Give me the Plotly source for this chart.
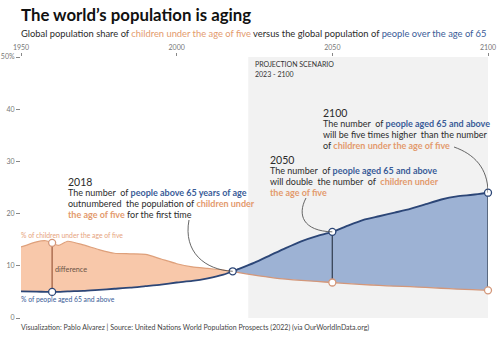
import plotly.graph_objects as go

# ---------------- data ----------------
years = [1950, 1955, 1958, 1960, 1962, 1965, 1970, 1975, 1980, 1985, 1990, 1995,
         2000, 2005, 2010, 2015, 2018, 2020, 2025, 2030, 2035, 2040, 2045, 2050,
         2055, 2060, 2065, 2070, 2075, 2080, 2085, 2090, 2095, 2100]
children_under5 = [13.6, 14.6, 14.8, 14.4, 13.9, 14.7, 14.0, 13.1, 12.4, 12.3, 12.2, 11.3,
                   10.4, 9.8, 9.5, 9.2, 8.95, 8.7, 8.2, 7.8, 7.45, 7.2, 7.0, 6.8,
                   6.6, 6.4, 6.25, 6.1, 6.0, 5.85, 5.7, 5.55, 5.45, 5.3]
aged65_plus = [5.1, 5.05, 5.0, 5.0, 5.0, 5.1, 5.2, 5.4, 5.6, 5.8, 6.1, 6.4,
               6.8, 7.1, 7.6, 8.3, 8.95, 9.4, 10.6, 12.0, 13.4, 14.7, 15.7, 16.5,
               17.7, 18.8, 19.5, 20.2, 20.9, 21.8, 22.7, 23.3, 23.6, 24.0]
highlight_years = [1960, 2018, 2050, 2100]
projection_start, projection_end = 2023, 2100
x_ticks = [1950, 2000, 2050, 2100]
y_ticks = [0, 10, 20, 30, 40, 50]
y_ticktext = ["0", "10", "20", "30", "40", "50%"]

# ---------------- styling ----------------
FONT = "Lato"
ORANGE_FILL = "#f8c8aa"
ORANGE_LINE = "#dea07b"
ORANGE_LINE2 = "#d3977a"
ORANGE_TXT = "#e39a6d"
BLUE_FILL = "#9db2d4"
BLUE_LINE = "#2c4677"
BLUE_TXT = "#3a5c98"
DARK = "#2b2b2b"

W, H = 500, 343
L, R, T, B = 21, 12, 57, 25
PW, PH = W - L - R, H - T - B


def px(xp, yp):
    """pixel -> paper coords"""
    return (xp - L) / PW, (H - B - yp) / PH


def pdata(xp, yp):
    """pixel -> data coords"""
    return (1950 + (xp - L) / PW * 150, (H - B - yp) / PH * 50)


idx18 = years.index(2018)
hy = years[:idx18 + 1]
py_ = years[idx18:]

fig = go.Figure()

# historical: orange area above blue
fig.add_trace(go.Scatter(x=hy, y=aged65_plus[:idx18 + 1], mode="lines",
                         line=dict(color=BLUE_LINE, width=1.8, shape="spline", smoothing=0.6),
                         hoverinfo="skip"))
fig.add_trace(go.Scatter(x=hy, y=children_under5[:idx18 + 1], mode="lines", fill="tonexty",
                         fillcolor=ORANGE_FILL,
                         line=dict(color=ORANGE_LINE, width=1.2, shape="spline", smoothing=0.6),
                         hoverinfo="skip"))
# projection: blue area above orange
fig.add_trace(go.Scatter(x=py_, y=children_under5[idx18:], mode="lines",
                         line=dict(color=ORANGE_LINE2, width=1.3, shape="spline", smoothing=0.6),
                         hoverinfo="skip"))
fig.add_trace(go.Scatter(x=py_, y=aged65_plus[idx18:], mode="lines", fill="tonexty",
                         fillcolor=BLUE_FILL,
                         line=dict(color=BLUE_LINE, width=1.9, shape="spline", smoothing=0.6),
                         hoverinfo="skip"))

# vertical difference lines
for yr, col in [(1960, "#a8694c"), (2050, "#3d4a5e"), (2100, "#3d4a5e")]:
    i = years.index(yr)
    fig.add_trace(go.Scatter(x=[yr, yr], y=[children_under5[i], aged65_plus[i]], mode="lines",
                             line=dict(color=col, width=1.4), hoverinfo="skip"))

# markers
for yr in highlight_years:
    i = years.index(yr)
    if yr != 2018:
        fig.add_trace(go.Scatter(x=[yr], y=[children_under5[i]], mode="markers",
                                 marker=dict(size=7, color="white",
                                             line=dict(color=ORANGE_LINE2, width=1.3)),
                                 hoverinfo="skip", cliponaxis=False))
    fig.add_trace(go.Scatter(x=[yr], y=[aged65_plus[i]], mode="markers",
                             marker=dict(size=7, color="white",
                                         line=dict(color=BLUE_LINE, width=1.3)),
                             hoverinfo="skip", cliponaxis=False))

# projection band
fig.add_shape(type="rect", xref="x", yref="y", x0=projection_start, x1=projection_end,
              y0=0, y1=50, fillcolor="#f2f2f2", line_width=0, layer="below")

# connectors
def curve(p0, c1, c2, p1):
    pts = [pdata(*p0), pdata(*c1), pdata(*c2), p1]
    return "M {},{} C {},{} {},{} {},{}".format(*[v for p in pts for v in p])

i18, i50, i100 = years.index(2018), years.index(2050), years.index(2100)
for path in [
    curve((189, 220), (183, 252), (205, 270), (2018, aged65_plus[i18])),
    curve((306, 198), (297, 215), (303, 231), (2050, aged65_plus[i50])),
    curve((454, 147), (474, 154), (488, 168), (2100, aged65_plus[i100])),
]:
    fig.add_shape(type="path", xref="x", yref="y", path=path,
                  line=dict(color="#555555", width=0.9), layer="above")

annotations = []


def ann(xp, yp, text, size, color=DARK):
    x, y = px(xp, yp)
    annotations.append(dict(x=x, y=y, xref="paper", yref="paper", text=text, showarrow=False,
                            xanchor="left", yanchor="middle", align="left", borderpad=0,
                            font=dict(family=FONT, size=size, color=color)))


def o(t):
    return f"<b><span style='color:{ORANGE_TXT}'>{t}</span></b>"


def b(t):
    return f"<b><span style='color:{BLUE_TXT}'>{t}</span></b>"


# title / subtitle / footer
ann(20, 15, "<b>The world’s population is aging</b>", 16.8, "#111111")
ann(20, 34, "Global population share of " + f"<span style='color:{ORANGE_TXT}'>children under the age of five</span>"
    + " versus the global population of " + f"<span style='color:{BLUE_TXT}'>people over the age of 65</span>",
    9.35, DARK)
ann(20, 327, "Visualization: Pablo Alvarez | Source: United Nations World Population Prospects (2022) (via OurWorldInData.org)",
    7.0, "#444444")

# projection label
ann(254, 64, "PROJECTION SCENARIO", 7.0, "#333333")
ann(254, 74, "2023 - 2100", 7.0, "#333333")

# series labels
ann(20, 235, "% of children under the age of five", 6.8, "#e6a37e")
ann(20, 299, "% of people aged 65 and above", 6.8, BLUE_TXT)
ann(54, 269, "difference", 7.3, "#6b5446")

# 2018 annotation
LS = 10.8
SZ = 9.0
ann(67, 182, "2018", 10.5, DARK)
ann(67, 182 + LS, "The number  of " + b("people above 65 years of age"), SZ, DARK)
ann(67, 182 + 2 * LS, "outnumbered  the population of " + o("children under"), SZ, DARK)
ann(67, 182 + 3 * LS, o("the age of five") + " for the first time", SZ, DARK)

# 2050 annotation
ann(269, 160, "2050", 10.5, DARK)
ann(269, 160 + LS, "The number  of " + b("people aged 65 and above"), SZ, DARK)
ann(269, 160 + 2 * LS, "will double  the number  of  " + o("children under"), SZ, DARK)
ann(269, 160 + 3 * LS, o("the age of five"), SZ, DARK)

# 2100 annotation
ann(322, 113, "2100", 10.5, DARK)
ann(322, 113 + LS, "The number  of " + b("people aged 65 and above"), SZ, DARK)
ann(322, 113 + 2 * LS, "will be five times higher  than the number", SZ, DARK)
ann(322, 113 + 3 * LS, "of " + o("children under the age of five"), SZ, DARK)

fig.update_layout(
    width=W, height=H,
    margin=dict(l=L, r=R, t=T, b=B, pad=0, autoexpand=False),
    paper_bgcolor="white", plot_bgcolor="white",
    showlegend=False,
    font=dict(family=FONT, color=DARK),
    annotations=annotations,
    xaxis=dict(range=[1950, 2100], side="top", tickvals=x_ticks, ticks="outside", ticklen=3,
               tickcolor="#888888", tickwidth=0.8, showgrid=False, zeroline=False, showline=False,
               automargin=False, tickfont=dict(family=FONT, size=7, color="#777777")),
    yaxis=dict(range=[0, 50], tickvals=y_ticks, ticktext=y_ticktext, ticks="outside", ticklen=4,
               tickcolor="#888888", tickwidth=0.8, showgrid=False, zeroline=False, showline=False,
               automargin=False, tickfont=dict(family=FONT, size=7, color="#777777")),
)

fig.write_html("out.html")
